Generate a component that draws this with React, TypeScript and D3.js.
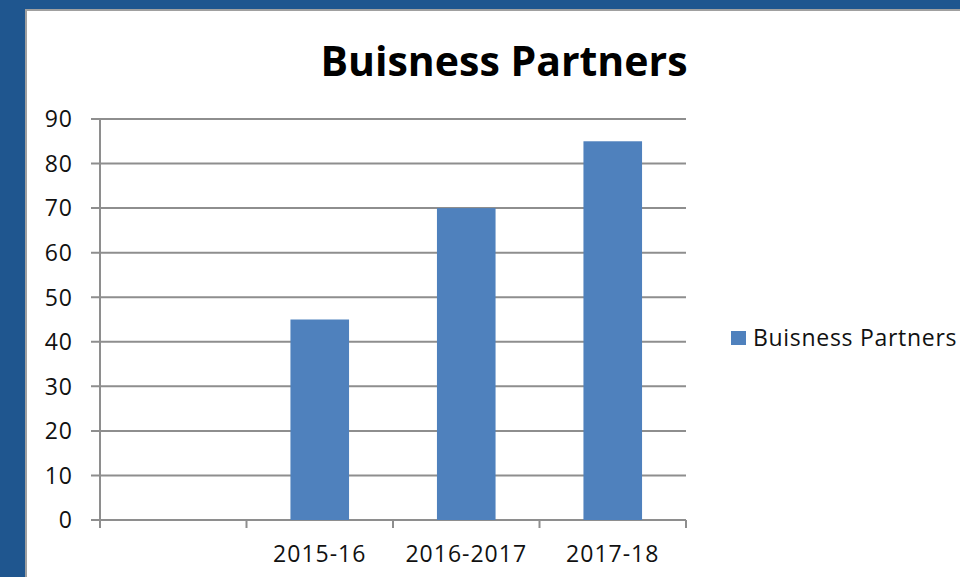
import { useEffect, useRef } from "react"
import * as d3 from "d3"

const categories = ["", "2015-16", "2016-2017", "2017-18"]
const values = [null, 45, 70, 85]
const yTicks = [0, 10, 20, 30, 40, 50, 60, 70, 80, 90]
const seriesName = "Buisness Partners"
const title = "Buisness Partners"

const W = 960
const H = 577
const FONT = "'Open Sans', 'Liberation Sans', sans-serif"

export default function App() {
  const svgRef = useRef<SVGSVGElement>(null)

  useEffect(() => {
    if (!svgRef.current) return
    const svg = d3.select(svgRef.current)
    svg.selectAll("*").remove()

    // frame: blue border with white slide panel
    svg.append("rect").attr("width", W).attr("height", H).attr("fill", "#1f568f")
    svg.append("rect").attr("x", 25).attr("y", 9).attr("width", W - 25).attr("height", H - 9).attr("fill", "#a0a0a0")
    svg.append("rect").attr("x", 27).attr("y", 11).attr("width", W - 27).attr("height", H - 11).attr("fill", "#ffffff")

    const margin = { left: 100, right: 274, top: 119, bottom: 57 }
    const innerW = W - margin.left - margin.right
    const innerH = H - margin.top - margin.bottom

    const x = d3.scaleBand().domain(categories).range([0, innerW]).padding(0)
    const y = d3.scaleLinear().domain([0, 90]).range([innerH, 0])

    const g = svg.append("g").attr("transform", `translate(${margin.left},${margin.top})`)

    // gridlines
    g.selectAll(".grid")
      .data(yTicks)
      .enter()
      .append("line")
      .attr("x1", -9)
      .attr("x2", innerW)
      .attr("y1", d => y(d))
      .attr("y2", d => y(d))
      .attr("stroke", "#8e8e8e")
      .attr("stroke-width", 2)

    // y axis line
    g.append("line")
      .attr("x1", 0).attr("x2", 0)
      .attr("y1", 0).attr("y2", innerH)
      .attr("stroke", "#8e8e8e")
      .attr("stroke-width", 2)

    // x ticks at band boundaries
    const bounds = categories.map(c => x(c) as number).concat([innerW])
    g.selectAll(".xtick")
      .data(bounds)
      .enter()
      .append("line")
      .attr("x1", d => d).attr("x2", d => d)
      .attr("y1", innerH).attr("y2", innerH + 8)
      .attr("stroke", "#8e8e8e")
      .attr("stroke-width", 2)

    // bars
    const barW = x.bandwidth() * 0.4
    g.selectAll(".bar")
      .data(categories.map((c, i) => ({ c, v: values[i] })).filter(d => d.v != null))
      .enter()
      .append("rect")
      .attr("x", d => (x(d.c) as number) + (x.bandwidth() - barW) / 2)
      .attr("y", d => y(d.v as number))
      .attr("width", barW)
      .attr("height", d => innerH - y(d.v as number))
      .attr("fill", "#4f81bd")

    // y labels
    g.selectAll(".ylab")
      .data(yTicks)
      .enter()
      .append("text")
      .attr("x", -27)
      .attr("y", d => y(d))
      .attr("dy", "0.36em")
      .attr("text-anchor", "end")
      .style("font-family", FONT)
      .style("font-size", "23px")
      .style("letter-spacing", "1px")
      .attr("fill", "#111")
      .text(d => d)

    // x labels
    g.selectAll(".xlab")
      .data(categories)
      .enter()
      .append("text")
      .attr("x", d => (x(d) as number) + x.bandwidth() / 2)
      .attr("y", innerH + 42)
      .attr("text-anchor", "middle")
      .style("font-family", FONT)
      .style("font-size", "23px")
      .style("letter-spacing", "1px")
      .attr("fill", "#111")
      .text(d => d)

    // title
    svg.append("text")
      .attr("x", 504)
      .attr("y", 76)
      .attr("text-anchor", "middle")
      .style("font-family", FONT)
      .style("font-size", "41px")
      .style("font-weight", "bold")
      .attr("fill", "#000")
      .text(title)

    // legend
    const legend = svg.append("g").attr("transform", "translate(731,331)")
    legend.append("rect").attr("width", 15).attr("height", 14).attr("fill", "#4f81bd")
    legend.append("text")
      .attr("x", 22)
      .attr("y", 7)
      .attr("dy", "0.36em")
      .style("font-family", FONT)
      .style("font-size", "23px")
      .style("letter-spacing", "0.7px")
      .attr("fill", "#111")
      .text(seriesName)
  }, [])

  return (
    <div style={{ position: "absolute", left: 0, top: 0, width: W, height: H, overflow: "hidden" }}>
      <svg ref={svgRef} width={W} height={H} style={{ display: "block" }} />
    </div>
  )
}
